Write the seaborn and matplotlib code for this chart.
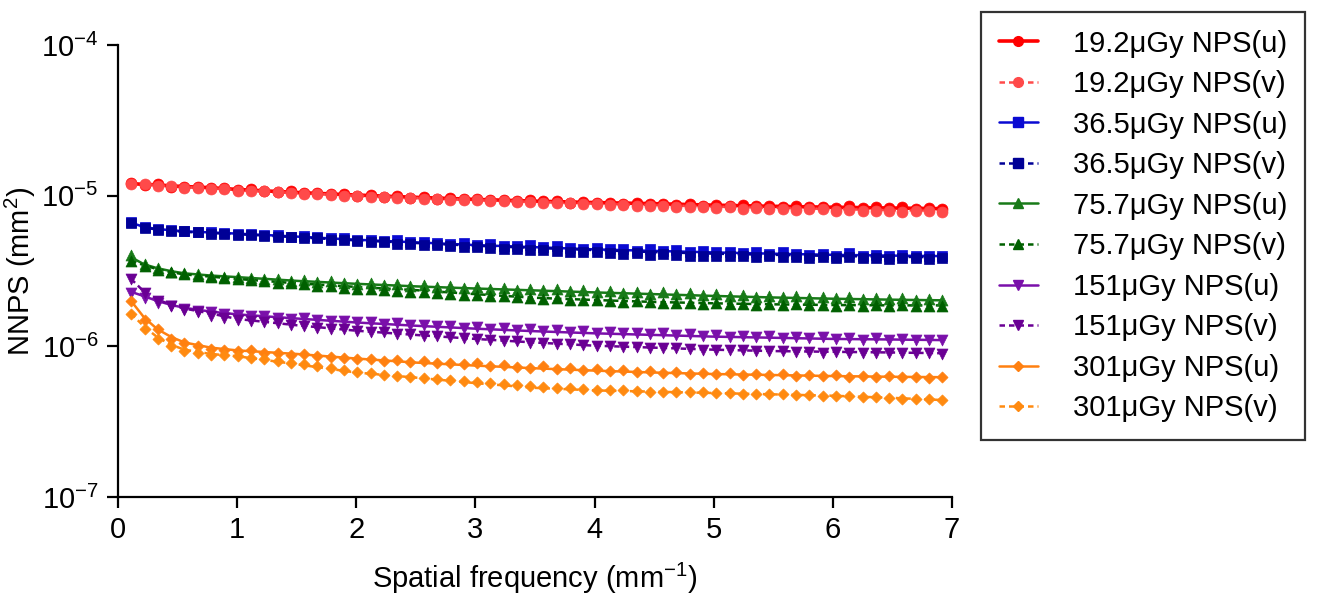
import matplotlib
matplotlib.use("Agg")
import matplotlib.pyplot as plt
from matplotlib.lines import Line2D
import numpy as np
import pandas as pd
import seaborn as sns

# Spatial frequency of the measured NPS samples (mm^-1)
freq = [0.112, 0.223, 0.335, 0.446, 0.558, 0.670, 0.781, 0.893, 1.004, 1.116,
        1.228, 1.339, 1.451, 1.562, 1.674, 1.786, 1.897, 2.009, 2.120, 2.232,
        2.344, 2.455, 2.567, 2.678, 2.790, 2.902, 3.013, 3.125, 3.236, 3.348,
        3.460, 3.571, 3.683, 3.794, 3.906, 4.018, 4.129, 4.241, 4.352, 4.464,
        4.576, 4.687, 4.799, 4.910, 5.022, 5.134, 5.245, 5.357, 5.468, 5.580,
        5.692, 5.803, 5.915, 6.026, 6.138, 6.250, 6.361, 6.473, 6.584, 6.696,
        6.808, 6.919]

# Measured NNPS, in units of 1e-6 mm^2
nps_19u = [12.1, 11.8, 12.0, 11.5, 11.4, 11.5, 11.2, 11.2, 10.9, 11.0, 10.8, 10.6, 10.7, 10.4, 10.4, 10.2,
           10.2, 10.0, 10.1, 9.85, 9.9, 9.7, 9.8, 9.55, 9.65, 9.45, 9.55, 9.35, 9.4, 9.2, 9.3, 9.15,
           9.2, 9.0, 9.1, 8.9, 9.0, 8.85, 8.95, 8.8, 8.85, 8.7, 8.8, 8.6, 8.7, 8.55, 8.65, 8.5,
           8.6, 8.45, 8.5, 8.4, 8.45, 8.3, 8.55, 8.3, 8.4, 8.25, 8.35, 8.2, 8.25, 8.2]
nps_19v = [12.0, 11.9, 11.6, 11.6, 11.3, 11.2, 11.1, 11.0, 10.8, 10.7, 10.7, 10.5, 10.4, 10.3, 10.2, 10.1,
           10.0, 9.95, 9.85, 9.8, 9.7, 9.6, 9.5, 9.55, 9.4, 9.35, 9.3, 9.2, 9.25, 9.1, 9.05, 8.95,
           8.9, 8.9, 8.8, 8.75, 8.7, 8.65, 8.6, 8.6, 8.5, 8.45, 8.4, 8.4, 8.3, 8.35, 8.2, 8.25,
           8.15, 8.2, 8.05, 8.1, 8.1, 7.95, 8.0, 7.95, 7.9, 7.95, 7.85, 7.9, 7.9, 7.8]
nps_36u = [6.7, 6.2, 6.05, 5.9, 5.85, 5.75, 5.7, 5.65, 5.6, 5.55, 5.5, 5.5, 5.35, 5.4, 5.3, 5.2,
           5.25, 5.1, 5.1, 5.0, 5.05, 4.9, 4.95, 4.85, 4.8, 4.85, 4.7, 4.75, 4.65, 4.6, 4.7, 4.55,
           4.6, 4.5, 4.45, 4.5, 4.4, 4.45, 4.3, 4.4, 4.3, 4.35, 4.25, 4.3, 4.2, 4.25, 4.15, 4.2,
           4.1, 4.2, 4.1, 4.05, 4.1, 4.0, 4.15, 4.0, 4.05, 3.95, 4.05, 3.95, 4.0, 3.95]
nps_36v = [6.6, 6.1, 5.95, 5.85, 5.8, 5.7, 5.6, 5.55, 5.5, 5.45, 5.4, 5.35, 5.3, 5.2, 5.2, 5.1,
           5.05, 5.0, 4.95, 4.9, 4.8, 4.8, 4.7, 4.7, 4.6, 4.55, 4.55, 4.5, 4.45, 4.4, 4.35, 4.35,
           4.3, 4.25, 4.2, 4.2, 4.15, 4.1, 4.15, 4.05, 4.1, 4.05, 4.0, 4.0, 3.95, 4.0, 3.95, 3.9,
           3.95, 3.9, 3.9, 3.85, 3.9, 3.85, 3.9, 3.85, 3.85, 3.8, 3.85, 3.85, 3.8, 3.85]
nps_75u = [4.05, 3.5, 3.3, 3.1, 3.05, 3.0, 2.95, 2.9, 2.9, 2.85, 2.8, 2.8, 2.72, 2.75, 2.68, 2.7,
           2.62, 2.6, 2.62, 2.55, 2.58, 2.5, 2.55, 2.48, 2.5, 2.45, 2.48, 2.42, 2.45, 2.38, 2.42, 2.36,
           2.4, 2.32, 2.35, 2.3, 2.33, 2.27, 2.3, 2.24, 2.28, 2.22, 2.25, 2.2, 2.23, 2.16, 2.2, 2.14,
           2.17, 2.12, 2.16, 2.1, 2.14, 2.08, 2.12, 2.06, 2.1, 2.05, 2.08, 2.04, 2.06, 2.03]
nps_75v = [3.7, 3.4, 3.2, 3.1, 3.0, 2.95, 2.88, 2.82, 2.78, 2.75, 2.7, 2.65, 2.62, 2.58, 2.52, 2.5,
           2.45, 2.42, 2.4, 2.36, 2.33, 2.3, 2.28, 2.26, 2.24, 2.2, 2.2, 2.16, 2.15, 2.12, 2.1, 2.07,
           2.08, 2.04, 2.03, 2.02, 2.0, 1.98, 1.99, 1.96, 1.95, 1.94, 1.95, 1.92, 1.93, 1.9, 1.92, 1.89,
           1.9, 1.88, 1.9, 1.87, 1.88, 1.86, 1.88, 1.85, 1.87, 1.86, 1.87, 1.85, 1.86, 1.86]
nps_151u = [2.25, 2.1, 1.95, 1.85, 1.78, 1.72, 1.68, 1.64, 1.62, 1.58, 1.6, 1.55, 1.53, 1.55, 1.5, 1.47,
            1.48, 1.44, 1.45, 1.41, 1.42, 1.38, 1.39, 1.36, 1.37, 1.33, 1.35, 1.31, 1.32, 1.29, 1.3, 1.27,
            1.28, 1.25, 1.27, 1.23, 1.25, 1.22, 1.23, 1.2, 1.22, 1.19, 1.21, 1.17, 1.19, 1.16, 1.18, 1.15,
            1.17, 1.14, 1.16, 1.13, 1.15, 1.12, 1.14, 1.11, 1.13, 1.1, 1.12, 1.1, 1.11, 1.1]
nps_151v = [2.8, 2.25, 2.0, 1.85, 1.75, 1.68, 1.6, 1.55, 1.5, 1.48, 1.45, 1.42, 1.38, 1.36, 1.33, 1.31,
            1.3, 1.27, 1.25, 1.24, 1.21, 1.2, 1.18, 1.17, 1.15, 1.13, 1.12, 1.1, 1.09, 1.08, 1.06, 1.06,
            1.04, 1.03, 1.02, 1.01, 1.0, 0.99, 0.99, 0.98, 0.97, 0.97, 0.96, 0.95, 0.95, 0.94, 0.94, 0.93,
            0.93, 0.93, 0.92, 0.92, 0.91, 0.92, 0.91, 0.91, 0.9, 0.91, 0.9, 0.9, 0.9, 0.89]
nps_301u = [2.0, 1.5, 1.3, 1.12, 1.05, 1.0, 0.96, 0.95, 0.93, 0.94, 0.91, 0.9, 0.88, 0.89, 0.86, 0.85,
            0.84, 0.82, 0.83, 0.8, 0.81, 0.79, 0.8, 0.77, 0.78, 0.76, 0.77, 0.74, 0.75, 0.73, 0.72, 0.74,
            0.71, 0.72, 0.7, 0.71, 0.69, 0.7, 0.68, 0.69, 0.67, 0.68, 0.66, 0.67, 0.655, 0.665, 0.65, 0.66,
            0.645, 0.655, 0.64, 0.65, 0.635, 0.645, 0.63, 0.64, 0.63, 0.635, 0.625, 0.63, 0.62, 0.625]
nps_301v = [1.65, 1.3, 1.12, 1.0, 0.93, 0.9, 0.88, 0.87, 0.86, 0.84, 0.82, 0.8, 0.78, 0.76, 0.74, 0.72,
            0.7, 0.68, 0.67, 0.65, 0.64, 0.63, 0.62, 0.61, 0.6, 0.59, 0.58, 0.57, 0.56, 0.55, 0.545, 0.535,
            0.53, 0.525, 0.52, 0.515, 0.51, 0.51, 0.505, 0.5, 0.5, 0.5, 0.495, 0.495, 0.49, 0.49, 0.485, 0.485,
            0.48, 0.48, 0.475, 0.475, 0.47, 0.47, 0.465, 0.46, 0.46, 0.455, 0.45, 0.45, 0.445, 0.44]

# Smoothed NNPS curves (1e-6 mm^2) at selected frequencies
fit_freq = [0.11, 0.22, 0.33, 0.45, 0.56, 0.78, 1.0, 1.5, 2.0, 2.5, 3.0, 3.5, 4.0, 4.5, 5.0, 5.5, 6.0, 6.5, 6.92]
fit_19u = [12.0, 11.9, 11.8, 11.6, 11.5, 11.3, 11.0, 10.5, 10.1, 9.75, 9.45, 9.2, 9.0, 8.85, 8.65, 8.5, 8.38, 8.28, 8.2]
fit_19v = [12.0, 11.9, 11.75, 11.55, 11.4, 11.2, 10.9, 10.4, 10.0, 9.65, 9.35, 9.1, 8.85, 8.65, 8.45, 8.3, 8.15, 8.0, 7.95]
fit_36u = [6.6, 6.2, 6.0, 5.9, 5.8, 5.7, 5.6, 5.35, 5.1, 4.9, 4.7, 4.55, 4.4, 4.3, 4.2, 4.12, 4.05, 4.0, 3.97]
fit_36v = [6.6, 6.15, 5.95, 5.85, 5.75, 5.65, 5.55, 5.3, 5.05, 4.85, 4.65, 4.5, 4.35, 4.22, 4.12, 4.05, 3.98, 3.93, 3.9]
fit_75u = [3.9, 3.5, 3.3, 3.15, 3.05, 2.95, 2.88, 2.72, 2.6, 2.5, 2.42, 2.35, 2.28, 2.22, 2.16, 2.11, 2.07, 2.04, 2.02]
fit_75v = [3.7, 3.45, 3.25, 3.1, 3.0, 2.9, 2.8, 2.62, 2.48, 2.36, 2.22, 2.1, 2.03, 1.97, 1.93, 1.9, 1.88, 1.87, 1.87]
fit_151u = [2.3, 2.15, 2.0, 1.88, 1.8, 1.7, 1.63, 1.53, 1.44, 1.37, 1.31, 1.26, 1.22, 1.19, 1.16, 1.14, 1.12, 1.11, 1.1]
fit_151v = [2.8, 2.3, 2.05, 1.88, 1.78, 1.65, 1.52, 1.38, 1.27, 1.19, 1.12, 1.06, 1.01, 0.98, 0.95, 0.93, 0.92, 0.91, 0.9]
fit_301u = [2.0, 1.55, 1.3, 1.15, 1.06, 0.98, 0.94, 0.89, 0.83, 0.78, 0.745, 0.715, 0.69, 0.67, 0.655, 0.645, 0.635, 0.628, 0.624]
fit_301v = [1.65, 1.35, 1.15, 1.02, 0.95, 0.89, 0.86, 0.76, 0.67, 0.62, 0.57, 0.53, 0.51, 0.5, 0.49, 0.48, 0.47, 0.455, 0.44]

labels = ["19.2\u03bcGy NPS(u)", "19.2\u03bcGy NPS(v)", "36.5\u03bcGy NPS(u)", "36.5\u03bcGy NPS(v)",
          "75.7\u03bcGy NPS(u)", "75.7\u03bcGy NPS(v)", "151\u03bcGy NPS(u)", "151\u03bcGy NPS(v)",
          "301\u03bcGy NPS(u)", "301\u03bcGy NPS(v)"]
measured = [nps_19u, nps_19v, nps_36u, nps_36v, nps_75u, nps_75v, nps_151u, nps_151v, nps_301u, nps_301v]
fitted = [fit_19u, fit_19v, fit_36u, fit_36v, fit_75u, fit_75v, fit_151u, fit_151v, fit_301u, fit_301v]

colors = ["#ff0000", "#ff4a4a", "#0a0ad2", "#000096", "#187a18", "#006000",
          "#7a10aa", "#6a0094", "#ff8010", "#ff8a10"]
markers = ["o", "o", "s", "s", "^", "^", "v", "v", "D", "D"]
msizes = [62, 62, 52, 52, 62, 62, 62, 62, 32, 32]
lstyles = ["-", "--", "-", "--", "-", "--", "-", "--", "-", "--"]
lwidths = [2.6, 1.8, 1.8, 1.8, 1.8, 1.8, 1.8, 1.8, 1.8, 1.8]

sns.set_theme(style="ticks")
plt.rcParams["font.family"] = ["Liberation Sans", "DejaVu Sans"]
plt.rcParams["mathtext.default"] = "regular"
plt.rcParams["text.color"] = "black"
plt.rcParams["axes.labelcolor"] = "black"

fig = plt.figure(figsize=(13.19, 6.06), dpi=100)
ax = fig.add_axes([118 / 1319, 1 - 497 / 606, (952 - 118) / 1319, (497 - 45) / 606])

for i, lab in enumerate(labels):
    fit_df = pd.DataFrame({"f": fit_freq, "nnps": np.array(fitted[i]) * 1e-6})
    pts_df = pd.DataFrame({"f": freq, "nnps": np.array(measured[i]) * 1e-6})
    sns.lineplot(data=fit_df, x="f", y="nnps", ax=ax, color=colors[i],
                 linestyle=lstyles[i], linewidth=lwidths[i], zorder=2)
    if lstyles[i] == "--":
        ax.lines[-1].set_dashes((2.2, 1.6))
    sns.scatterplot(data=pts_df, x="f", y="nnps", ax=ax, color=colors[i],
                    marker=markers[i], s=msizes[i], edgecolor=colors[i],
                    linewidth=0.5, zorder=3)

ax.set_yscale("log")
ax.set_xlim(0, 7)
ax.set_ylim(1e-7, 1e-4)
ax.set_xticks(range(0, 8))
ax.set_yticks([1e-7, 1e-6, 1e-5, 1e-4])
ax.set_yticklabels(["$10^{-7}$", "$10^{-6}$", "$10^{-5}$", "$10^{-4}$"])
ax.yaxis.set_minor_locator(matplotlib.ticker.NullLocator())
ax.tick_params(axis="both", which="major", direction="out", length=8, width=1.6,
               labelsize=21, color="black", labelcolor="black", pad=6)
for side in ["left", "bottom"]:
    ax.spines[side].set_linewidth(1.6)
    ax.spines[side].set_color("black")
sns.despine(ax=ax)
ax.set_xlabel("Spatial frequency (mm$^{-1}$)", fontsize=21, labelpad=12)
ax.set_ylabel("NNPS (mm$^{2}$)", fontsize=21, labelpad=2)

handles = []
for i, lab in enumerate(labels):
    handles.append(Line2D([0], [0], color=colors[i], linestyle=lstyles[i],
                          linewidth=lwidths[i], marker=markers[i],
                          markersize=7 if markers[i] != "D" else 5,
                          markerfacecolor=colors[i], markeredgecolor=colors[i],
                          dashes=(2.2, 1.6) if lstyles[i] == "--" else (None, None)))
leg = fig.legend(handles, labels, loc="upper left",
                 bbox_to_anchor=(981 / 1319, 1 - 12 / 606), borderaxespad=0,
                 fontsize=21, frameon=True, fancybox=False, handlelength=1.35,
                 handletextpad=1.2, labelspacing=0.43, borderpad=0.6)
leg.get_frame().set_edgecolor("black")
leg.get_frame().set_linewidth(1.6)

fig.savefig("out.png", dpi=100)
